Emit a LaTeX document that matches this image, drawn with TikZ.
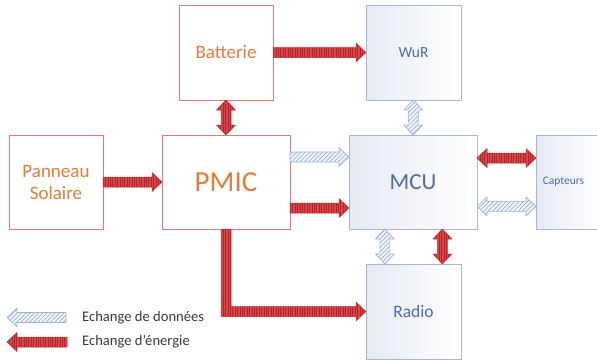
\documentclass[tikz,border=0pt]{standalone}
\usepackage{fontspec}
\setmainfont{Carlito}
\usetikzlibrary{calc,patterns.meta}
\definecolor{orangetxt}{HTML}{E57C38}
\definecolor{redline}{HTML}{E27780}
\definecolor{bluetxt}{HTML}{4F6BAE}
\definecolor{blueline}{HTML}{AAB8D6}
\definecolor{bluefill}{HTML}{E6EAF3}
\definecolor{energyfill}{HTML}{DB4548}
\definecolor{energystripe}{HTML}{B0242A}
\definecolor{energyline}{HTML}{B8383C}
\definecolor{datafill}{HTML}{F3F6FB}
\definecolor{datastripe}{HTML}{9AAED4}
\definecolor{dataline}{HTML}{A0B2D6}
\definecolor{legtxt}{HTML}{3A3A3A}
% single arrow: style, from, to
\newcommand\sarrow[3]{%
  \coordinate (ta) at (#2); \coordinate (tb) at (#3);
  \coordinate (tc) at ($(tb)!10pt!(ta)$);
  \path[#1] ($(ta)!5pt!90:(tb)$) -- ($(tc)!5pt!90:(tb)$) -- ($(tc)!9.5pt!90:(tb)$)
    -- (tb) -- ($(tc)!9.5pt!-90:(tb)$) -- ($(tc)!5pt!-90:(tb)$)
    -- ($(ta)!5pt!-90:(tb)$) -- cycle;}
% double arrow: style, from, to
\newcommand\darrow[3]{%
  \coordinate (ta) at (#2); \coordinate (tb) at (#3);
  \coordinate (tc) at ($(tb)!10pt!(ta)$);
  \coordinate (td) at ($(ta)!10pt!(tb)$);
  \path[#1] (ta) -- ($(td)!9.5pt!90:(tb)$) -- ($(td)!5pt!90:(tb)$)
    -- ($(tc)!5pt!90:(tb)$) -- ($(tc)!9.5pt!90:(tb)$) -- (tb)
    -- ($(tc)!9.5pt!-90:(tb)$) -- ($(tc)!5pt!-90:(tb)$)
    -- ($(td)!5pt!-90:(tb)$) -- ($(td)!9.5pt!-90:(tb)$) -- cycle;}
\begin{document}
\begin{tikzpicture}[x=1pt,y=-1pt,
  box/.style={rectangle, outer sep=0pt, inner sep=0pt, line width=0.9pt, align=center},
  redbox/.style={box, draw=redline, fill=white, text=orangetxt},
  bluebox/.style={box, draw=blueline, left color=bluefill, right color=white, text=bluetxt},
  energy/.style={draw=energyline, line width=0.5pt, line join=round,
    preaction={fill=energyfill},
    pattern={Lines[angle=90,distance=2.4pt,line width=0.8pt]}, pattern color=energystripe},
  data/.style={draw=dataline, line width=0.6pt, line join=round,
    preaction={fill=datafill},
    pattern={Lines[angle=45,distance=3pt,line width=0.7pt]}, pattern color=datastripe},
  legend/.style={anchor=west, inner sep=0pt, text=legtxt, font=\fontsize{14.6}{16}\selectfont}
]
\useasboundingbox (0,0) rectangle (597,360);
\fill[white] (0,0) rectangle (597,360);

% boxes
\node[redbox, minimum width=94, minimum height=94, font=\fontsize{19}{22}\selectfont]
  (pan) at (56,182) {Panneau\\Solaire};
\node[redbox, minimum width=94, minimum height=95, font=\fontsize{19}{22}\selectfont]
  (batt) at (226,52.5) {Batterie};
\node[redbox, minimum width=128, minimum height=94, font=\fontsize{29}{32}\selectfont]
  (pmic) at (226,182) {PMIC};
\node[bluebox, minimum width=95, minimum height=95, font=\fontsize{15.5}{18}\selectfont]
  (wur) at (413.5,52.5) {WuR};
\node[bluebox, minimum width=128, minimum height=94, font=\fontsize{23}{26}\selectfont]
  (mcu) at (413,182) {\raisebox{-2pt}{MCU}};
\node[bluebox, minimum width=63, minimum height=94, font=\fontsize{11.5}{13}\selectfont]
  (capt) at (567.5,182) {\hspace*{-8pt}Capteurs};
\node[bluebox, minimum width=95, minimum height=95, font=\fontsize{17.5}{20}\selectfont]
  (radio) at (413.5,311.5) {Radio};

% energy connectors
\sarrow{energy}{batt.east}{wur.west}
\darrow{energy}{batt.south}{pmic.north}
\sarrow{energy}{pan.east}{pmic.west}
\sarrow{energy}{$(pmic.north east)!0.777!(pmic.south east)$}{$(mcu.north west)!0.777!(mcu.south west)$}
\darrow{energy}{$(mcu.north east)!0.245!(mcu.south east)$}{$(capt.north west)!0.245!(capt.south west)$}
\coordinate (me) at ($(mcu.south west)!0.73!(mcu.south east)$);
\darrow{energy}{me}{me |- radio.north}
\coordinate (k) at (pmic.south |- radio.west);
\path[energy] ([shift={(-5,0)}]pmic.south) -- ([shift={(-5,5)}]k)
  -- ([shift={(-10,5)}]radio.west) -- ([shift={(-10,9.5)}]radio.west)
  -- (radio.west) -- ([shift={(-10,-9.5)}]radio.west)
  -- ([shift={(-10,-5)}]radio.west) -- ([shift={(5,-5)}]k)
  -- ([shift={(5,0)}]pmic.south) -- cycle;

% data connectors
\sarrow{data}{$(pmic.north east)!0.234!(pmic.south east)$}{$(mcu.north west)!0.234!(mcu.south west)$}
\darrow{data}{wur.south}{mcu.north}
\darrow{data}{$(mcu.north east)!0.76!(mcu.south east)$}{$(capt.north west)!0.76!(capt.south west)$}
\coordinate (md) at ($(mcu.south west)!0.28!(mcu.south east)$);
\darrow{data}{md}{md |- radio.north}

% legend
\coordinate (lda) at (66,317.5);
\coordinate (ldb) at (7,317.5);
\coordinate (lea) at (67,342);
\coordinate (leb) at (7,342);
\sarrow{data}{lda}{ldb}
\sarrow{energy}{lea}{leb}
\node[legend] (ltd) at (82,317.5) {Echange de données};
\node[legend] (lte) at (82,342) {Echange d’énergie};
\end{tikzpicture}
\end{document}
